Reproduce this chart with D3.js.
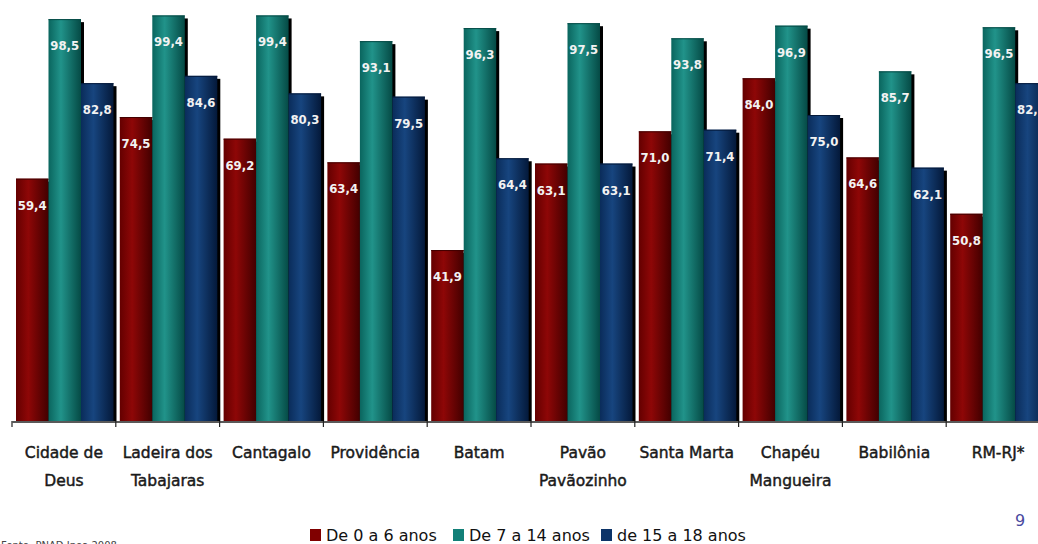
<!DOCTYPE html>
<html>
<head>
<meta charset="utf-8">
<script src="https://cdn.jsdelivr.net/npm/d3@7/dist/d3.min.js"></script>
<style>
  html, body { margin: 0; padding: 0; background: #fff; overflow: hidden; }
  svg { display: block; }
</style>
</head>
<body>
<svg id="chart" width="1038" height="544"></svg>
<script>
// Frequência escolar por faixa etária (%), por comunidade
const categories = ["Cidade de\nDeus", "Ladeira dos\nTabajaras", "Cantagalo", "Providência", "Batam",
                    "Pavão\nPavãozinho", "Santa Marta", "Chapéu\nMangueira", "Babilônia", "RM-RJ*"];
const seriesNames = ["De 0 a 6 anos", "De 7 a 14 anos", "de 15 a 18 anos"];
const age0to6   = [59.4, 74.5, 69.2, 63.4, 41.9, 63.1, 71.0, 84.0, 64.6, 50.8];
const age7to14  = [98.5, 99.4, 99.4, 93.1, 96.3, 97.5, 93.8, 96.9, 85.7, 96.5];
const age15to18 = [82.8, 84.6, 80.3, 79.5, 64.4, 63.1, 71.4, 75.0, 62.1, 82.8];
const sourceNote = "Fonte: PNAD Ipea 2008";
const pageNumber = "9";

const seriesValues = [age0to6, age7to14, age15to18];

const svg = d3.select("#chart");

// cylindrical shading for each series
const shades = [
  ["#640000", "#8e0707", "#420000"],
  ["#0a655e", "#21938a", "#054a45"],
  ["#0a2c5a", "#17457f", "#04193a"]
];
const legendColors = ["#800000", "#128078", "#0d3468"];

const defs = svg.append("defs");
shades.forEach((s, i) => {
  const g = defs.append("linearGradient").attr("id", "grad" + i)
    .attr("x1", "0%").attr("x2", "100%").attr("y1", "0%").attr("y2", "0%");
  g.append("stop").attr("offset", "0%").attr("stop-color", s[0]);
  g.append("stop").attr("offset", "38%").attr("stop-color", s[1]);
  g.append("stop").attr("offset", "100%").attr("stop-color", s[2]);
});

const x0 = d3.scaleBand().domain(d3.range(categories.length)).range([12, 1050]);
const x1 = d3.scaleBand().domain(d3.range(seriesNames.length)).range([4, 101.5]);
const y = d3.scaleLinear().domain([0, 100]).range([421, 13]);

const rows = categories.map((c, i) => ({
  i, name: c,
  bars: seriesValues.map((vals, k) => ({ k, v: vals[i] }))
}));

const groups = svg.append("g").selectAll("g").data(rows).join("g")
  .attr("transform", d => `translate(${x0(d.i)},0)`);

// drop shadow to the right of every bar
groups.selectAll("rect.shadow").data(d => d.bars).join("rect")
  .attr("class", "shadow")
  .attr("x", d => x1(d.k) + 3)
  .attr("y", d => y(d.v) + 3)
  .attr("width", x1.bandwidth())
  .attr("height", d => y(0) - y(d.v) - 3)
  .attr("fill", "#000");

groups.selectAll("rect.bar").data(d => d.bars).join("rect")
  .attr("class", "bar")
  .attr("x", d => x1(d.k))
  .attr("y", d => y(d.v))
  .attr("width", x1.bandwidth())
  .attr("height", d => y(0) - y(d.v))
  .attr("fill", d => `url(#grad${d.k})`);

// thin darker rim on the bar tops
groups.selectAll("line.rim").data(d => d.bars).join("line")
  .attr("x1", d => x1(d.k))
  .attr("x2", d => x1(d.k) + x1.bandwidth())
  .attr("y1", d => y(d.v) + 0.5)
  .attr("y2", d => y(d.v) + 0.5)
  .attr("stroke", d => shades[d.k][2])
  .attr("stroke-width", 1);

// value labels (decimal comma)
const fmt = v => v.toFixed(1).replace(".", ",");
groups.selectAll("text.val").data(d => d.bars).join("text")
  .attr("class", "val")
  .attr("x", d => x1(d.k) + x1.bandwidth() / 2)
  .attr("y", d => y(d.v) + 31)
  .attr("text-anchor", "middle")
  .attr("font-family", "'DejaVu Sans Condensed', 'DejaVu Sans', sans-serif")
  .attr("font-weight", "bold")
  .attr("font-size", 13)
  .attr("fill", "#f2f2f2")
  .text(d => fmt(d.v));

// category axis
const axis = d3.axisBottom(x0).tickSize(0).tickFormat("");
const axisG = svg.append("g").attr("transform", `translate(0,${y(0) + 0.5})`).call(axis);
axisG.select(".domain").attr("stroke", "#222").attr("stroke-width", 1.5);
// boundary ticks between groups
svg.append("g").selectAll("line").data(d3.range(categories.length + 1)).join("line")
  .attr("x1", i => 12 + i * x0.step()).attr("x2", i => 12 + i * x0.step())
  .attr("y1", y(0)).attr("y2", y(0) + 6)
  .attr("stroke", "#222").attr("stroke-width", 1.2);

const catText = svg.append("g").selectAll("text").data(rows).join("text")
  .attr("x", d => x0(d.i) + x0.bandwidth() / 2)
  .attr("y", 458)
  .attr("text-anchor", "middle")
  .attr("font-family", "'DejaVu Sans', sans-serif")
  .attr("font-size", 15.5)
  .attr("fill", "#1a1a1a")
  .attr("stroke", "#1a1a1a")
  .attr("stroke-width", 0.45);
catText.each(function(d) {
  const t = d3.select(this);
  d.name.split("\n").forEach((line, j) => {
    t.append("tspan").attr("x", x0(d.i) + x0.bandwidth() / 2)
      .attr("dy", j === 0 ? 0 : 28).text(line);
  });
});

// legend
const legendX = [310, 453, 601];
const lg = svg.append("g").selectAll("g").data(seriesNames).join("g")
  .attr("transform", (d, i) => `translate(${legendX[i]},529)`);
lg.append("rect").attr("width", 11).attr("height", 12).attr("fill", (d, i) => legendColors[i]);
lg.append("text").attr("x", 16).attr("y", 11.5)
  .attr("font-family", "'DejaVu Sans', sans-serif")
  .attr("font-size", 16).attr("fill", "#111")
  .text(d => d);

// page number
svg.append("text").attr("x", 1020).attr("y", 526).attr("text-anchor", "middle")
  .attr("font-family", "'DejaVu Sans', sans-serif").attr("font-size", 16)
  .attr("fill", "#4a4aa0").text(pageNumber);

// source note, partially clipped by the page edge
svg.append("text").attr("x", 1).attr("y", 549)
  .attr("font-family", "'DejaVu Sans', sans-serif").attr("font-size", 10)
  .attr("fill", "#444").text(sourceNote);
</script>
</body>
</html>
